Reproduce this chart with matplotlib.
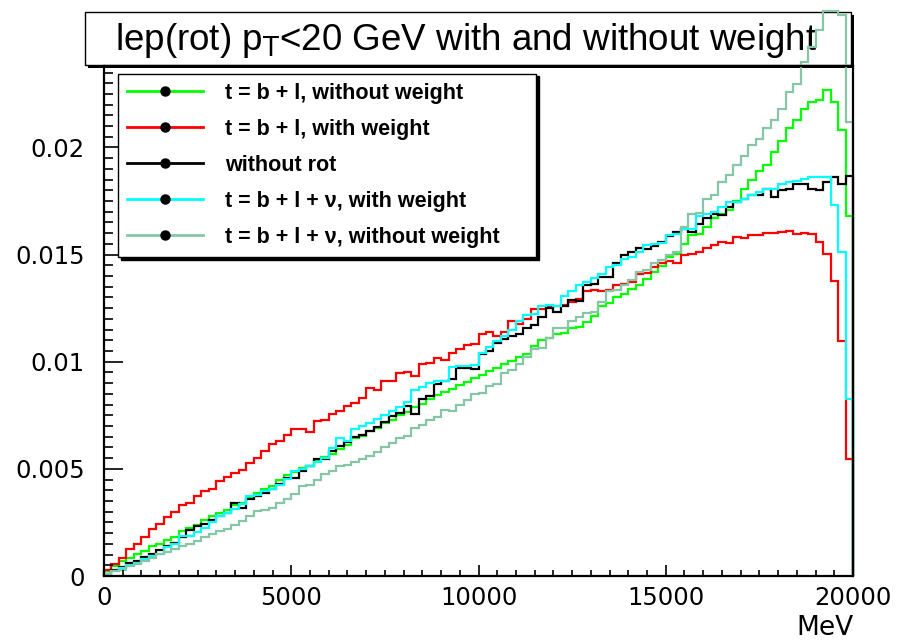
import numpy as np
import matplotlib.pyplot as plt
from matplotlib.lines import Line2D
from matplotlib.patches import Rectangle
from matplotlib.ticker import MultipleLocator, FuncFormatter

# bin contents, in units of 1e-3 (100 bins of 200 MeV)
edges = np.linspace(0, 20000, 101)

green = [0.22, 0.45, 0.68, 0.86, 1.02, 1.15, 1.38, 1.50, 1.70, 1.84,
         2.08, 2.25, 2.40, 2.62, 2.78, 2.95, 3.10, 3.30, 3.42, 3.70,
         3.88, 4.05, 4.22, 4.48, 4.70, 4.86, 5.05, 5.15, 5.35, 5.55,
         5.70, 5.92, 6.10, 6.42, 6.55, 6.78, 6.92, 7.15, 7.30, 7.52,
         7.65, 7.90, 8.05, 8.28, 8.45, 8.58, 8.75, 8.92, 9.05, 9.25,
         9.40, 9.55, 9.72, 9.90, 10.05, 10.22, 10.35, 10.75, 11.00, 11.10,
         11.30, 11.35, 11.57, 11.62, 11.85, 12.15, 12.60, 12.75, 13.00, 13.15,
         13.40, 13.60, 13.85, 14.20, 14.45, 14.90, 15.05, 15.50, 15.90, 15.95,
         16.30, 16.70, 16.90, 17.10, 17.50, 18.07, 18.50, 18.90, 19.20, 19.80,
         20.30, 20.90, 21.30, 21.80, 22.10, 22.20, 22.67, 22.10, 20.80, 16.80]

red = [0.26, 0.58, 0.85, 1.28, 1.50, 1.80, 2.20, 2.45, 2.75, 3.00,
       3.30, 3.42, 3.75, 3.98, 4.05, 4.45, 4.60, 4.80, 4.95, 5.28,
       5.50, 5.84, 6.16, 6.30, 6.60, 6.86, 6.86, 6.70, 7.23, 7.30,
       7.56, 7.70, 7.93, 8.07, 8.30, 8.77, 8.70, 9.10, 9.10, 9.47,
       9.50, 9.35, 9.88, 9.95, 10.16, 10.10, 10.40, 10.60, 10.80, 10.85,
       11.28, 11.40, 11.20, 11.40, 11.90, 11.74, 12.00, 12.44, 12.45, 12.55,
       12.60, 12.67, 12.80, 12.95, 13.28, 13.35, 13.28, 13.35, 13.60, 13.65,
       13.70, 14.10, 14.15, 14.44, 14.60, 14.70, 14.60, 15.00, 15.05, 15.14,
       15.30, 15.45, 15.60, 15.55, 15.84, 15.78, 15.93, 15.93, 16.00, 16.00,
       16.07, 16.10, 15.98, 16.02, 15.95, 15.60, 15.05, 13.75, 10.95, 5.46]

norot = [0.10, 0.28, 0.42, 0.60, 0.72, 0.88, 1.05, 1.20, 1.40, 1.55,
         1.80, 2.16, 2.35, 2.45, 2.62, 2.80, 2.95, 3.42, 3.19, 3.60,
         3.74, 3.88, 4.05, 4.30, 4.58, 4.58, 4.90, 5.14, 5.47, 5.45,
         5.84, 6.07, 6.25, 6.50, 6.58, 6.78, 6.95, 7.20, 7.47, 7.62,
         7.95, 7.56, 8.26, 8.40, 8.95, 9.09, 9.20, 9.70, 9.70, 9.68,
         10.35, 10.50, 10.86, 11.05, 11.20, 11.28, 11.56, 11.70, 12.10, 12.49,
         12.30, 12.60, 12.90, 12.85, 13.60, 13.65, 13.97, 13.97, 14.60, 15.00,
         15.10, 15.30, 15.25, 15.40, 15.60, 15.85, 16.07, 16.20, 16.07, 16.45,
         16.70, 16.90, 16.85, 17.20, 17.47, 17.60, 17.80, 17.77, 18.07, 17.70,
         18.00, 18.07, 18.30, 18.30, 18.07, 18.00, 18.40, 18.60, 18.30, 18.67]

cyan = [0.10, 0.25, 0.38, 0.50, 0.62, 0.78, 0.95, 1.05, 1.35, 1.50,
        1.85, 1.88, 2.05, 2.26, 2.50, 2.81, 2.95, 3.15, 3.37, 3.74,
        3.80, 3.95, 4.05, 4.25, 4.53, 4.90, 5.00, 5.15, 5.30, 5.50,
        5.98, 6.44, 6.30, 6.86, 7.00, 7.15, 7.35, 7.50, 7.70, 7.90,
        8.10, 8.70, 8.80, 9.00, 9.10, 9.10, 9.75, 9.80, 9.80, 9.85,
        10.40, 10.70, 10.95, 11.20, 11.50, 11.88, 12.20, 12.25, 12.58, 12.65,
        12.58, 13.05, 13.28, 13.60, 13.74, 13.90, 14.10, 14.40, 14.50, 14.80,
        14.90, 15.10, 15.45, 15.50, 15.55, 15.90, 15.95, 16.20, 16.20, 16.80,
        16.90, 17.00, 17.20, 17.47, 17.47, 17.60, 17.77, 17.90, 18.07, 18.07,
        18.30, 18.40, 18.45, 18.55, 18.60, 18.60, 18.60, 17.30, 15.10, 8.26]

gray = [0.08, 0.22, 0.30, 0.45, 0.58, 0.70, 0.85, 1.05, 1.12, 1.28,
        1.40, 1.51, 1.62, 1.80, 1.95, 2.12, 2.21, 2.40, 2.58, 2.80,
        3.05, 3.10, 3.19, 3.42, 3.60, 3.84, 4.20, 4.25, 4.50, 4.77,
        4.90, 5.14, 5.20, 5.30, 5.45, 5.60, 5.80, 6.00, 6.21, 6.45,
        6.55, 6.90, 7.05, 7.30, 7.40, 7.75, 7.70, 8.00, 8.20, 8.49,
        8.55, 8.86, 8.95, 9.47, 9.60, 9.88, 10.20, 10.60, 10.65, 11.10,
        11.56, 11.56, 11.88, 12.10, 12.26, 12.30, 12.81, 13.30, 13.35, 13.60,
        13.80, 14.20, 14.30, 14.60, 14.75, 15.00, 15.10, 16.30, 16.90, 16.95,
        17.60, 17.80, 18.40, 18.70, 19.20, 19.60, 20.10, 20.40, 20.90, 21.30,
        21.80, 22.60, 22.97, 23.97, 24.70, 25.50, 26.35, 26.35, 26.18, 21.20]

labels = ["t = b + l, without weight",
          "t = b + l, with weight",
          "without rot",
          "t = b + l + \u03bd, with weight",
          "t = b + l + \u03bd, without weight"]
series = [green, red, norot, cyan, gray]
colors = ["#00ff00", "#ff0000", "#000000", "#00ffff", "#86c6a6"]

scale = 1e-3
W, H = 897, 643


def fx(x):
    return x / W


def fy(y):
    return 1 - y / H


fig = plt.figure(figsize=(W / 100, H / 100), dpi=100)

# title box with ROOT style shadow
fig.add_artist(Rectangle((fx(88), fy(68)), fx(766), 53 / H, transform=fig.transFigure,
                         facecolor="black", edgecolor="none", zorder=1))
fig.add_artist(Rectangle((fx(85), fy(65)), fx(766), 53 / H, transform=fig.transFigure,
                         facecolor="white", edgecolor="black", lw=1, zorder=2))
fig.text(fx(466), fy(50), r"lep(rot) p$_{\rm T}$<20 GeV with and without weight",
         ha="center", va="baseline", fontsize=26.5,
         family="Liberation Sans", zorder=3)

ax = fig.add_axes([fx(104), fy(576), fx(749), 510 / H])
ax.set_zorder(5)
ax.patch.set_visible(False)

for vals, c in zip(series, colors):
    ax.stairs(np.array(vals) * scale, edges, color=c, lw=1.6, clip_on=False)

ax.set_xlim(0, 20000)
ax.set_ylim(0, 1.05 * max(green) * scale)

ax.xaxis.set_major_locator(MultipleLocator(5000))
ax.xaxis.set_minor_locator(MultipleLocator(500))
ax.yaxis.set_major_locator(MultipleLocator(0.005))
ax.yaxis.set_minor_locator(MultipleLocator(0.0005))
ax.xaxis.set_major_formatter(FuncFormatter(lambda v, p: "%d" % v))
ax.yaxis.set_major_formatter(FuncFormatter(lambda v, p: "%g" % round(v, 4)))

ax.tick_params(which="both", direction="in", top=False, right=False,
               labelsize=17.5, width=1.2)
ax.tick_params(axis="x", which="major", length=8, pad=7)
ax.tick_params(axis="x", which="minor", length=4)
ax.tick_params(axis="y", which="major", length=13.5, pad=14)
ax.tick_params(axis="y", which="minor", length=6.8)
for s in ax.spines.values():
    s.set_linewidth(1.6)

ax.set_xlabel("MeV", fontsize=19, loc="right", labelpad=4)

handles = [Line2D([], [], color=c, lw=2, marker="o", markersize=6.5,
                  markerfacecolor="black", markeredgecolor="black")
           for c in colors]
leg = ax.legend(handles, labels, loc="upper left",
                bbox_to_anchor=(0.0187, 0.645, 0.558, 0.34), mode="expand",
                borderaxespad=0, fancybox=False, edgecolor="black",
                framealpha=1, shadow={"color": "black", "alpha": 1},
                prop={"family": "Liberation Sans", "weight": "bold", "size": 15.5},
                handlelength=3.55, handletextpad=1.0, labelspacing=0.70,
                borderpad=0.42)
leg.get_frame().set_linewidth(1)

fig.savefig("out.png", dpi=100)
